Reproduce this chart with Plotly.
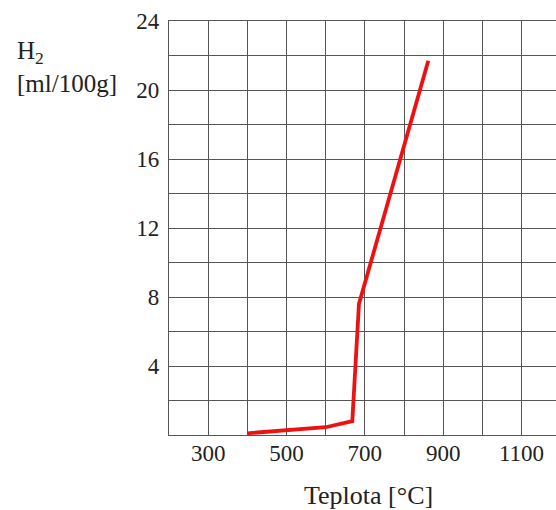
import plotly.graph_objects as go

# Data
temperature = [400, 500, 600, 668, 676, 685, 862]
h2_content = [0.1, 0.25, 0.45, 0.8, 4.0, 7.6, 21.7]

x_tick_vals = [200, 300, 400, 500, 600, 700, 800, 900, 1000, 1100]
x_tick_text = ["", "300", "", "500", "", "700", "", "900", "", "1100"]
y_tick_vals = [0, 2, 4, 6, 8, 10, 12, 14, 16, 18, 20, 22, 24]
y_tick_text = ["", "", "4", "", "8", "", "12", "", "16", "", "20", "", "24"]

FONT = "Liberation Serif, Times New Roman, serif"
GRID = "#555555"

fig = go.Figure()
fig.add_trace(go.Scatter(
    x=temperature, y=h2_content, mode="lines",
    line=dict(color="#ee1111", width=3.8),
    showlegend=False, hoverinfo="skip",
))

# plot area deliberately runs past the right edge of the 556px window (clipped, as in the reference)
fig.update_layout(
    width=580, height=510,
    margin=dict(l=169, r=0, t=21, b=75),
    paper_bgcolor="white", plot_bgcolor="white",
    font=dict(family=FONT, size=23, color="#222222"),
    xaxis=dict(
        range=[200, 1249.3], tickmode="array",
        tickvals=x_tick_vals, ticktext=x_tick_text,
        showgrid=True, gridcolor=GRID, gridwidth=1.3,
        showline=True, linecolor=GRID, linewidth=1.3, mirror=True,
        zeroline=False, ticks="", ticklabelstandoff=-3,
    ),
    yaxis=dict(
        range=[0, 24], tickmode="array",
        tickvals=y_tick_vals, ticktext=y_tick_text,
        showgrid=True, gridcolor=GRID, gridwidth=1.3,
        showline=True, linecolor=GRID, linewidth=1.3,
        zeroline=False, ticks="", ticklabelstandoff=4,
    ),
    annotations=[
        dict(text="H<sub>2</sub><br>[ml/100g]", xref="paper", yref="paper",
             x=-0.3747, y=0.965, xanchor="left", yanchor="top", align="left",
             showarrow=False, font=dict(family=FONT, size=25, color="#222222")),
        dict(text="Teplota [°C]", xref="paper", yref="paper",
             x=0.4866, y=-0.145, xanchor="center", yanchor="middle",
             showarrow=False, font=dict(family=FONT, size=26, color="#222222")),
    ],
)

fig.write_html(
    "out.html",
    config={"displayModeBar": False},
    post_script=(
        "document.documentElement.style.overflow='hidden';"
        "document.body.style.margin='0';document.body.style.overflow='hidden';"
    ),
)
